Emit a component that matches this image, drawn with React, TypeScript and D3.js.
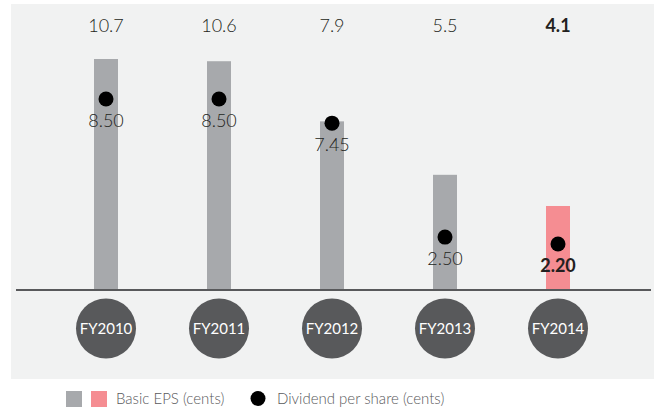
import React from "react";
import * as d3 from "d3";

const categories = ["FY2010", "FY2011", "FY2012", "FY2013", "FY2014"];
const epsValues = [10.7, 10.6, 7.9, 5.5, 4.1];
const epsLabels = ["10.7", "10.6", "7.9", "5.5", "4.1"];
const dividendValues = [8.5, 8.5, 7.45, 2.5, 2.2];
const dividendLabels = ["8.50", "8.50", "7.45", "2.50", "2.20"];
const highlightIndex = 4;

const W = 661;
const H = 412;
const axisY = 290;
const FONT = "Lato, 'Open Sans', sans-serif";

export default function App() {
  const x = d3.scalePoint<string>().domain(categories).range([106, 558]);
  const yEps = d3.scaleLinear().domain([0, 10.7]).range([297.3, 59]);
  const yDiv = d3.scaleLinear().domain([2.2, 8.5]).range([244, 99]);
  const barW = 24;

  return (
    <svg
      width={W}
      height={H}
      style={{ position: "absolute", left: 0, top: 0, fontFamily: FONT }}
    >
      <rect x={0} y={0} width={W} height={H} fill="#ffffff" />
      <rect x={11} y={4} width={643} height={375} fill="#f1f2f2" />

      {categories.map((c, i) => {
        const cx = x(c)!;
        const top = yEps(epsValues[i]);
        return (
          <rect
            key={"bar" + c}
            x={cx - barW / 2}
            y={top}
            width={barW}
            height={axisY - top}
            fill={i === highlightIndex ? "#f58d92" : "#a7a9ac"}
          />
        );
      })}

      <line x1={16} x2={651} y1={axisY} y2={axisY} stroke="#58595b" strokeWidth={1.8} />

      {categories.map((c, i) => (
        <text
          key={"eps" + c}
          x={x(c)!}
          y={32}
          textAnchor="middle"
          fontSize={18}
          fontWeight={i === highlightIndex ? 700 : 300}
          fill="#231f20"
        >
          {epsLabels[i]}
        </text>
      ))}

      {categories.map((c, i) => {
        const cy = yDiv(dividendValues[i]);
        return (
          <g key={"div" + c}>
            <circle cx={x(c)!} cy={cy} r={7.5} fill="#000000" />
            <text
              x={x(c)!}
              y={cy + 28}
              textAnchor="middle"
              fontSize={18}
              fontWeight={i === highlightIndex ? 700 : 300}
              fill="#231f20"
            >
              {dividendLabels[i]}
            </text>
          </g>
        );
      })}

      {categories.map((c) => (
        <g key={"cat" + c}>
          <circle cx={x(c)!} cy={328.5} r={30} fill="#58595b" />
          <text
            x={x(c)!}
            y={334}
            textAnchor="middle"
            fontSize={15}
            fill="#ffffff"
          >
            {c}
          </text>
        </g>
      ))}

      <rect x={66} y={391} width={16} height={16} fill="#a7a9ac" />
      <rect x={91} y={391} width={16} height={16} fill="#f58d92" />
      <text x={116} y={404} fontSize={15} fontWeight={300} fill="#58595b">
        Basic EPS (cents)
      </text>
      <circle cx={258} cy={398.5} r={7.5} fill="#000000" />
      <text x={277} y={404} fontSize={15} fontWeight={300} fill="#58595b">
        Dividend per share (cents)
      </text>
    </svg>
  );
}
